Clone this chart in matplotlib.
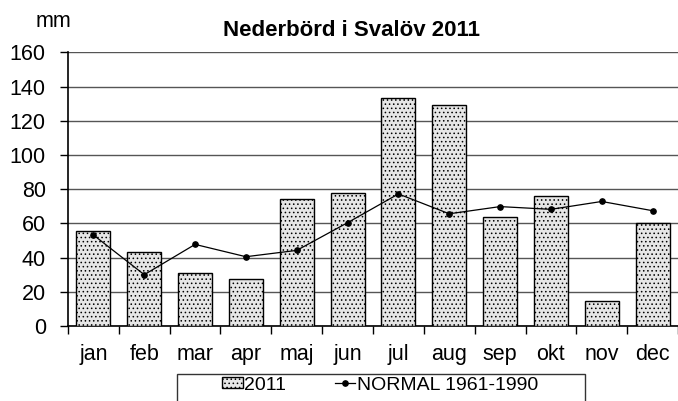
import numpy as np
import matplotlib
matplotlib.use("Agg")
import matplotlib.pyplot as plt
from matplotlib.patches import Rectangle

# Monthly precipitation, Svalöv
months = ["jan", "feb", "mar", "apr", "maj", "jun",
          "jul", "aug", "sep", "okt", "nov", "dec"]
rain_2011 = [55.5, 43, 31, 27.5, 74.5, 78, 133, 129, 63.5, 76, 14.7, 60.5]
normal_1961_1990 = [53.2, 30, 47.7, 40.5, 44.2, 60.4, 77.2, 65.6, 69.8, 68.2, 72.8, 67.4]
y_ticks = [0, 20, 40, 60, 80, 100, 120, 140, 160]

plt.rcParams["font.family"] = ["Liberation Sans", "DejaVu Sans"]
plt.rcParams["hatch.linewidth"] = 0.6
plt.rcParams["hatch.color"] = "#555555"

fig = plt.figure(figsize=(6.78, 4.01), dpi=100)
ax = fig.add_axes([68 / 678, 1 - 326 / 401, 610 / 678, (326 - 52.3) / 401])

x = np.arange(len(months))
bars = ax.bar(x, rain_2011, width=0.67, facecolor="#e6e6e6", edgecolor="black",
              linewidth=1.0, hatch="....", zorder=3, label="2011")
(normal_line,) = ax.plot(x, normal_1961_1990, color="black", linewidth=0.9,
                         marker="o", markersize=3.8, zorder=4,
                         label="NORMAL 1961-1990")

ax.set_xlim(-0.5, len(months) - 0.5)
ax.set_ylim(0, 160)
ax.set_yticks(y_ticks)
ax.yaxis.grid(True, color="#555555", linewidth=1.0, zorder=0)
ax.set_axisbelow(True)

# category labels centred, ticks on the boundaries
ax.set_xticks(x)
ax.set_xticklabels(months, fontsize=15.5)
ax.set_xticks(np.arange(len(months) + 1) - 0.5, minor=True)
ax.tick_params(axis="x", which="major", length=0, pad=13)
ax.tick_params(axis="x", which="minor", length=6, width=1, direction="out")
ax.tick_params(axis="y", length=6, width=1, direction="out", labelsize=15.5, pad=10)

for side in ["top", "right"]:
    ax.spines[side].set_visible(False)
ax.spines["left"].set_linewidth(1.2)
ax.spines["bottom"].set_linewidth(1.2)

fig.text(351.5 / 678, 1 - 36 / 401, "Nederbörd i Svalöv 2011", ha="center",
         va="baseline", fontsize=16, fontweight="bold")
fig.text(53 / 678, 1 - 26.7 / 401, "mm", ha="center", va="baseline", fontsize=15.5)

# legend box runs off the bottom of the image
fig.patches.append(Rectangle((177 / 678, -0.05), 408 / 678, 0.05 + 1 - 374 / 401,
                             transform=fig.transFigure, facecolor="none",
                             edgecolor="#333333", linewidth=1.0))
fig.legend([bars, normal_line], ["2011", "NORMAL 1961-1990"], loc="center",
           bbox_to_anchor=(380 / 678, 1 - 385 / 401), ncol=2,
           frameon=False, fontsize=14, handlelength=1.05, handleheight=0.45,
           handletextpad=0.08, columnspacing=2.5, borderpad=0)

fig.savefig("out.png", dpi=100)
